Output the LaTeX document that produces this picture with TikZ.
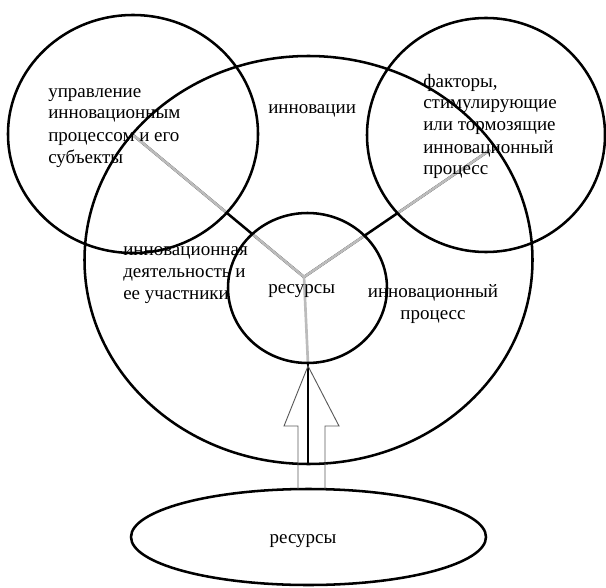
\documentclass[tikz,border=0pt]{standalone}
\usepackage{fontspec}
\setmainfont{Liberation Serif}
\usetikzlibrary{positioning}

\definecolor{spokegrey}{RGB}{188,188,188}
\definecolor{arrowgrey}{RGB}{90,90,90}

\begin{document}
\begin{tikzpicture}[x=0.75pt,y=-0.75pt,
    ring/.style={line width=1.9pt},
    spoke/.style={line width=1.9pt},
    greyspoke/.style={line width=2pt,color=spokegrey},
    blockarrow/.style={line width=0.7pt,color=arrowgrey,line join=miter},
    txt/.style={font=\fontsize{14.25}{16.5}\selectfont,inner sep=0pt,align=left,anchor=base west}
]
    \useasboundingbox (0,0) rectangle (606,588);

    % centres of the rings
    \coordinate (L) at (133,134);
    \coordinate (R) at (486,135);
    \coordinate (B) at (308.5,260);
    \coordinate (S) at (307.5,288);
    \coordinate (E) at (308.5,537);

    % spokes
    \coordinate (hub) at (304,277);
    \coordinate (Lend) at (133,135);
    \coordinate (Rend) at (490,150);
    \coordinate (Send) at (308,364);
    \coordinate (Bend) at (308,464);

    \draw[spoke] (hub) -- (Lend);
    \draw[spoke] (hub) -- (Rend);
    \draw[spoke] (Send) -- (Bend);
    \begin{scope}
        \clip (S) ellipse [x radius=79.5,y radius=75];
        \draw[greyspoke] (hub) -- (Lend) (hub) -- (Rend) (hub) -- (Send);
    \end{scope}
    \begin{scope}
        \clip (L) ellipse [x radius=125,y radius=119];
        \draw[greyspoke] (hub) -- (Lend);
    \end{scope}
    \begin{scope}
        \clip (R) ellipse [x radius=119,y radius=117];
        \draw[greyspoke] (hub) -- (Rend);
    \end{scope}

    % rings
    \draw[ring] (L) ellipse [x radius=125,y radius=119];
    \draw[ring] (R) ellipse [x radius=119,y radius=117];
    \draw[ring] (B) ellipse [x radius=224,y radius=204];
    \draw[ring] (S) ellipse [x radius=79.5,y radius=75];
    \draw[ring] (E) ellipse [x radius=177.5,y radius=48];

    % hollow arrow
    \coordinate (tip) at (308,366);
    \draw[blockarrow] (298,489) -- (298,426) -- (284,426) -- (tip) -- (339,426) -- (325,426) -- (325,489);

    % texts (multi-line nodes sit on the baseline of their last line)
    \node[txt] (mgmt) at (48,163) {управление\\инновационным\\процессом и его\\субъекты};
    \node[txt] (innov) at (268,114) {инновации};
    \node[txt] (factors) at (423,175) {факторы,\\стимулирующие\\или тормозящие\\инновационный\\процесс};
    \node[txt] (activity) at (123,299) {инновационная\\деятельность и\\ее участники};
    \node[txt] (res) at (268,293) {ресурсы};
    \node[txt,align=center,anchor=base] (process) at (433,319) {инновационный\\процесс};
    \node[txt,anchor=base] (resin) at (303,543) {ресурсы};
\end{tikzpicture}
\end{document}
